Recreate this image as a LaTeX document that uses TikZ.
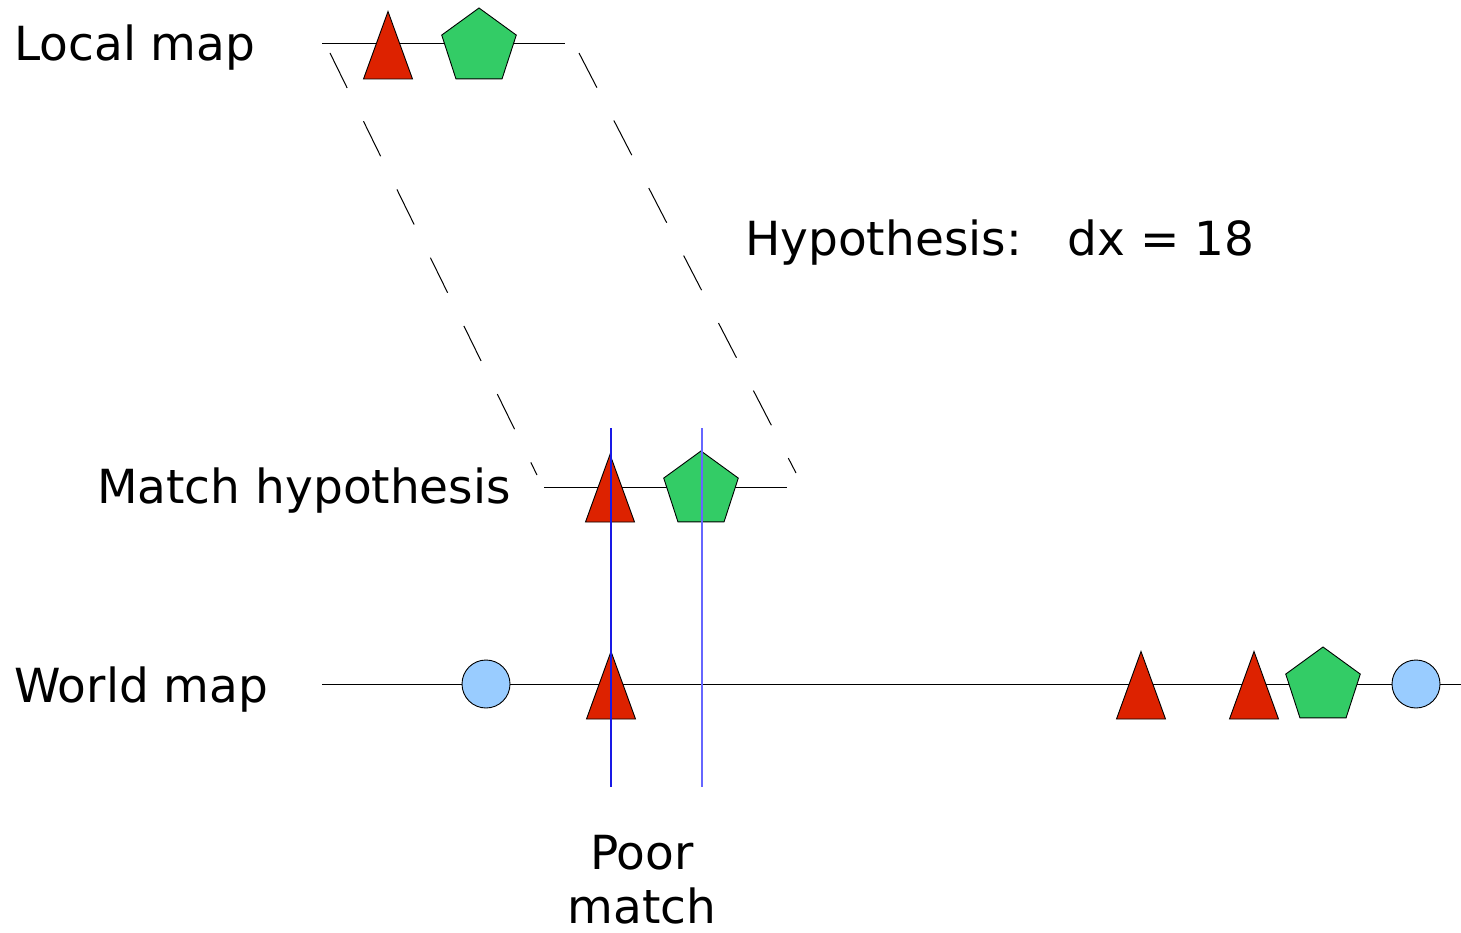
\documentclass[tikz,border=0pt]{standalone}
\usepackage{fontspec}
\setmainfont{DejaVu Sans}
\usetikzlibrary{shapes.geometric}
\definecolor{tred}{HTML}{DD2200}
\definecolor{pgreen}{HTML}{33CC66}
\definecolor{cblue}{HTML}{99CCFF}
\definecolor{vdark}{rgb}{0.1,0.1,0.9}
\definecolor{vlight}{rgb}{0.4,0.4,1}
\tikzset{
  axis/.style={draw=black, line width=1pt},
  lbl/.style={anchor=base west, inner sep=0pt, font=\fontsize{47}{53}\selectfont},
  pent/.style={regular polygon, regular polygon sides=5, draw=black, fill=pgreen, line width=0.9pt, inner sep=0pt, minimum size=78.4pt},
  circ/.style={circle, draw=black, fill=cblue, line width=0.9pt, inner sep=0pt, minimum size=48pt},
  trishape/.style={draw=black, fill=tred, line width=0.9pt, line join=miter},
  guide/.style={dash pattern=on 39pt off 37pt, line width=1pt},
  vline/.style={line width=1.2pt},
  pics/tri/.style={code={\path[trishape] (0,-33.5) -- (24.5,34) -- (-24.5,34) -- cycle;}}
}
\begin{document}
\begin{tikzpicture}[x=1pt,y=-1pt]
\useasboundingbox (0,0) rectangle (1461,933);
% labels
\node[lbl] (llocal) at (14,61) {Local map};
\node[lbl] (lmatch) at (97,503) {Match hypothesis};
\node[lbl] (lworld) at (14,702) {World map};
\node[lbl] (lhyp) at (745,256) {Hypothesis:\hspace{0.55em} dx = 18};
\node[align=center, inner sep=0pt, font=\fontsize{47}{54}\selectfont] (lpoor) at (642,880) {Poor\\match};
% axes
\coordinate (la) at (322,44); \coordinate (lb) at (565,44);
\coordinate (ma) at (544,487); \coordinate (mb) at (787,487);
\coordinate (wa) at (322,684); \coordinate (wb) at (1461,684);
\draw[axis] (la) -- (lb);
\draw[axis] (ma) -- (mb);
\draw[axis] (wa) -- (wb);
% dashed guides
\coordinate (g1a) at (330,53); \coordinate (g1b) at (537,475);
\coordinate (g2a) at (579,53); \coordinate (g2b) at (796,473);
\draw[guide] (g1a) -- (g1b);
\draw[guide] (g2a) -- (g2b);
% local map shapes
\pic at (388,45) {tri};
\node[pent] (lp) at (479,47.2) {};
% match hypothesis shapes
\pic at (610,488) {tri};
\node[pent] (mp) at (701,490.2) {};
% world map shapes
\node[circ] (wc1) at (486,684) {};
\pic at (611,685) {tri};
\pic at (1141,685) {tri};
\pic at (1254,685) {tri};
\node[pent] (wp) at (1323,686.2) {};
\node[circ] (wc2) at (1416,684) {};
% vertical match lines
\coordinate (v1a) at (611,428); \coordinate (v1b) at (611,787);
\coordinate (v2a) at (702,428); \coordinate (v2b) at (702,787);
\draw[vline, vdark] (v1a) -- (v1b);
\draw[vline, vlight] (v2a) -- (v2b);
\end{tikzpicture}
\end{document}
